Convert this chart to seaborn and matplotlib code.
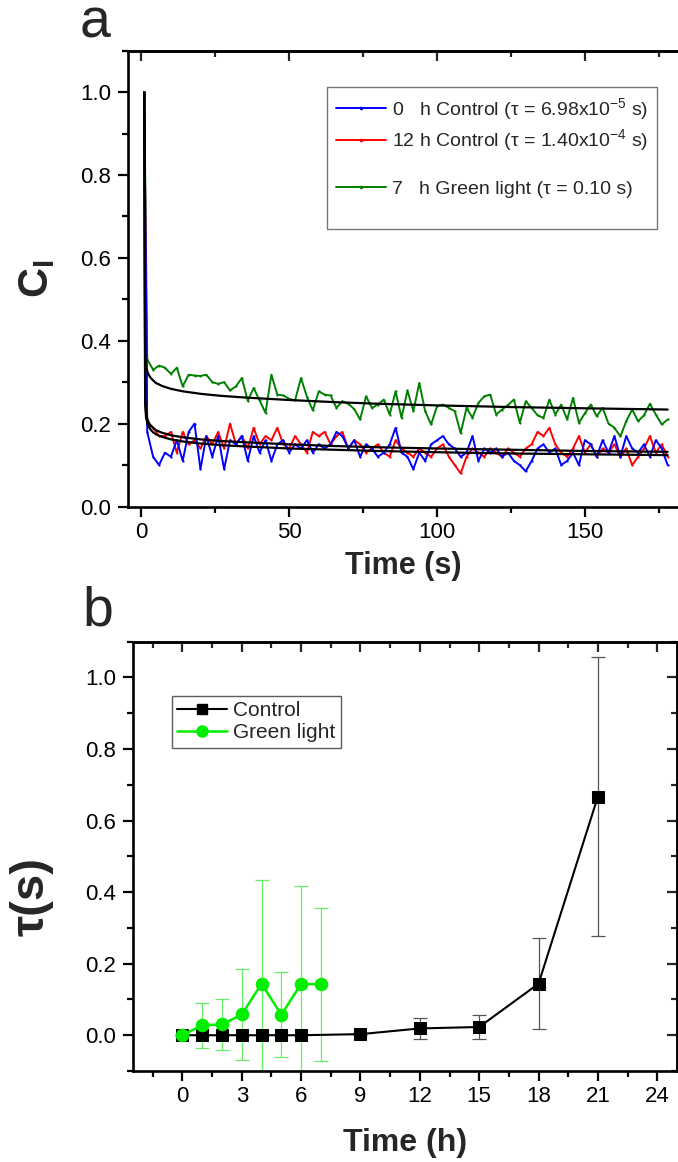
import numpy as np
import pandas as pd
import matplotlib
matplotlib.use("Agg")
import matplotlib.pyplot as plt
import seaborn as sns
from matplotlib.lines import Line2D
from matplotlib.ticker import MultipleLocator

# ---------------- data: panel a ----------------
time_s = [1] + list(range(2, 179, 2))

c_green = [1.0,
    0.355, 0.33, 0.34, 0.335, 0.32, 0.335, 0.29, 0.318, 0.316, 0.315,
    0.318, 0.30, 0.296, 0.30, 0.28, 0.29, 0.31, 0.255, 0.286, 0.256,
    0.226, 0.318, 0.27, 0.268, 0.26, 0.256, 0.31, 0.265, 0.232, 0.278,
    0.27, 0.268, 0.238, 0.254, 0.248, 0.235, 0.21, 0.266, 0.238, 0.246,
    0.258, 0.222, 0.278, 0.214, 0.28, 0.23, 0.298, 0.23, 0.198, 0.242,
    0.246, 0.238, 0.23, 0.177, 0.238, 0.214, 0.25, 0.266, 0.27, 0.222,
    0.234, 0.245, 0.258, 0.202, 0.254, 0.238, 0.22, 0.214, 0.258, 0.222,
    0.246, 0.21, 0.262, 0.202, 0.225, 0.246, 0.218, 0.238, 0.20, 0.19,
    0.169, 0.206, 0.234, 0.206, 0.22, 0.248, 0.222, 0.198, 0.21]

c_blue = [1.0,
    0.18, 0.12, 0.10, 0.13, 0.12, 0.16, 0.11, 0.18, 0.20, 0.09,
    0.17, 0.12, 0.17, 0.09, 0.16, 0.15, 0.17, 0.11, 0.17, 0.13,
    0.16, 0.11, 0.15, 0.16, 0.13, 0.15, 0.14, 0.16, 0.13, 0.15,
    0.14, 0.15, 0.18, 0.17, 0.14, 0.16, 0.12, 0.15, 0.14, 0.12,
    0.13, 0.15, 0.19, 0.13, 0.12, 0.09, 0.13, 0.11, 0.15, 0.16,
    0.17, 0.15, 0.14, 0.12, 0.13, 0.17, 0.11, 0.14, 0.13, 0.14,
    0.12, 0.13, 0.11, 0.10, 0.085, 0.11, 0.14, 0.15, 0.13, 0.14,
    0.10, 0.11, 0.13, 0.10, 0.16, 0.15, 0.12, 0.16, 0.13, 0.17,
    0.12, 0.17, 0.14, 0.13, 0.15, 0.12, 0.16, 0.14, 0.10]

c_red = [1.0,
    0.20, 0.19, 0.17, 0.17, 0.18, 0.13, 0.18, 0.15, 0.16, 0.14,
    0.17, 0.15, 0.18, 0.14, 0.20, 0.15, 0.17, 0.14, 0.19, 0.15,
    0.17, 0.16, 0.19, 0.15, 0.14, 0.17, 0.15, 0.13, 0.18, 0.17,
    0.18, 0.15, 0.17, 0.18, 0.14, 0.16, 0.15, 0.13, 0.14, 0.15,
    0.13, 0.12, 0.16, 0.14, 0.13, 0.12, 0.14, 0.13, 0.12, 0.14,
    0.15, 0.12, 0.10, 0.08, 0.12, 0.14, 0.13, 0.12, 0.14, 0.13,
    0.12, 0.14, 0.13, 0.12, 0.14, 0.15, 0.18, 0.17, 0.19, 0.15,
    0.13, 0.12, 0.14, 0.17, 0.13, 0.15, 0.12, 0.14, 0.13, 0.15,
    0.12, 0.14, 0.10, 0.12, 0.14, 0.17, 0.13, 0.15, 0.12]

fit_t = [1, 1.3, 1.6, 2, 2.5, 3, 4, 5, 7, 10, 14, 20, 27, 35, 50, 65, 80, 100, 125, 150, 178]
fit_green = [1.0, 0.37, 0.34, 0.327, 0.318, 0.312, 0.304, 0.298, 0.291, 0.284, 0.278,
             0.272, 0.267, 0.263, 0.257, 0.252, 0.248, 0.244, 0.240, 0.237, 0.234]
fit_red = [1.0, 0.26, 0.225, 0.212, 0.203, 0.197, 0.19, 0.184, 0.178, 0.172, 0.167,
           0.162, 0.158, 0.155, 0.150, 0.146, 0.143, 0.140, 0.137, 0.134, 0.132]
fit_blue = [1.0, 0.25, 0.215, 0.202, 0.193, 0.187, 0.179, 0.174, 0.168, 0.162, 0.157,
            0.152, 0.148, 0.145, 0.140, 0.137, 0.134, 0.131, 0.128, 0.126, 0.124]

legend_a_labels = ["0   h Control (\u03c4 = 6.98x10$^{-5}$ s)",
                   "12 h Control (\u03c4 = 1.40x10$^{-4}$ s)",
                   "7   h Green light (\u03c4 = 0.10 s)"]

# ---------------- data: panel b ----------------
hours_control = [0, 1, 2, 3, 4, 5, 6, 9, 12, 15, 18, 21]
tau_control = [0, 0, 0, 0, 0, 0, 0, 0.003, 0.019, 0.023, 0.144, 0.667]
err_control = [0, 0, 0, 0, 0, 0, 0, 0.002, 0.030, 0.033, 0.127, 0.390]

hours_green = [0, 1, 2, 3, 4, 5, 6, 7]
tau_green = [0, 0.028, 0.030, 0.058, 0.144, 0.057, 0.144, 0.142]
err_green = [0, 0.063, 0.070, 0.127, 0.290, 0.119, 0.273, 0.215]

# ---------------- style ----------------
sns.set_theme(style="ticks")
plt.rcParams["font.family"] = ["Liberation Sans", "DejaVu Sans"]
plt.rcParams["mathtext.fontset"] = "custom"
plt.rcParams["mathtext.rm"] = "Liberation Sans"
plt.rcParams["mathtext.it"] = "Liberation Sans:italic"
plt.rcParams["mathtext.bf"] = "Liberation Sans:bold"

W, H = 678, 1162
fig = plt.figure(figsize=(W / 100, H / 100), dpi=100)

def px_axes(l, t, r, b):
    return fig.add_axes([l / W, 1 - b / H, (r - l) / W, (b - t) / H])

SPW = 1.9
TICK_FS = 16

def style_axes(ax, xmaj, xmin, ymaj, ymin, right_spine=True):
    for s in ["left", "bottom", "top", "right"]:
        ax.spines[s].set_linewidth(SPW)
        ax.spines[s].set_color("black")
    if not right_spine:
        ax.spines["right"].set_visible(False)
    ax.xaxis.set_major_locator(MultipleLocator(xmaj))
    ax.xaxis.set_minor_locator(MultipleLocator(xmin))
    ax.yaxis.set_major_locator(MultipleLocator(ymaj))
    ax.yaxis.set_minor_locator(MultipleLocator(ymin))
    ax.tick_params(which="major", direction="out", length=7, width=1.6,
                   labelsize=TICK_FS, colors="black", pad=4)
    ax.tick_params(which="minor", direction="out", length=4.5, width=1.6, colors="black")
    ax.tick_params(axis="y", which="major", pad=5)
    ax.tick_params(top=False, right=False, which="both")
    sec = ax.secondary_xaxis("top")
    sec.xaxis.set_major_locator(MultipleLocator(xmaj))
    sec.xaxis.set_minor_locator(MultipleLocator(xmin))
    sec.tick_params(which="major", direction="in", length=7, width=1.6, labeltop=False)
    sec.tick_params(which="minor", direction="in", length=4, width=1.6)
    sec.spines["top"].set_linewidth(SPW)
    if right_spine:
        secy = ax.secondary_yaxis("right")
        secy.yaxis.set_major_locator(MultipleLocator(ymaj))
        secy.yaxis.set_minor_locator(MultipleLocator(ymin))
        secy.tick_params(which="major", direction="in", length=7, width=1.6, labelright=False)
        secy.tick_params(which="minor", direction="in", length=4, width=1.6)
        secy.spines["right"].set_linewidth(SPW)
    ax.grid(False)

# ---------------- panel a ----------------
axa = px_axes(128, 50.7, 678, 506.5)
df_a = pd.DataFrame({
    "time": time_s * 3,
    "c": c_blue + c_red + c_green,
    "series": ["blue"] * len(time_s) + ["red"] * len(time_s) + ["green"] * len(time_s),
})
pal = {"blue": "#0000ff", "red": "#ff0000", "green": "#008000"}
for name in ["green", "red", "blue"]:
    sub = df_a[df_a["series"] == name]
    sns.lineplot(data=sub, x="time", y="c", ax=axa, color=pal[name], lw=1.4,
                 estimator=None, sort=False, legend=False,
                 marker="o", markersize=1.6, markeredgewidth=0)
df_fit = pd.DataFrame({"t": fit_t * 3, "v": fit_green + fit_red + fit_blue,
                       "k": ["g"] * len(fit_t) + ["r"] * len(fit_t) + ["b"] * len(fit_t)})
for k in ["g", "r", "b"]:
    sub = df_fit[df_fit["k"] == k]
    sns.lineplot(data=sub, x="t", y="v", ax=axa, color="black", lw=1.6,
                 estimator=None, sort=False, legend=False)
axa.set_xlim(-4.5, 181.5)
axa.set_ylim(0, 1.1)
style_axes(axa, 50, 25, 0.2, 0.1, right_spine=False)
axa.set_xlabel("Time (s)", fontsize=22, fontweight="bold", labelpad=6)
axa.set_ylabel("C$_\\mathbf{I}$", fontsize=30, fontweight="bold")
axa.yaxis.set_label_coords((57 - 128) / 550, 0.5)
axa.set_xticks([0, 50, 100, 150])
axa.set_yticks([0.0, 0.2, 0.4, 0.6, 0.8, 1.0])
axa.set_yticklabels(["0.0", "0.2", "0.4", "0.6", "0.8", "1.0"])

blank = Line2D([], [], color="none")
handles_a = [Line2D([], [], color="#0000ff", lw=1.4, marker="o", ms=1.6),
             Line2D([], [], color="#ff0000", lw=1.4, marker="o", ms=1.6),
             blank,
             Line2D([], [], color="#008000", lw=1.4, marker="o", ms=1.6),
             blank]
labels_a = [legend_a_labels[0], legend_a_labels[1], " ", legend_a_labels[2], " "]
lga = axa.legend(handles_a, labels_a, loc="upper left",
                 bbox_to_anchor=((327 - 128) / 550, (506.5 - 87) / 455.8),
                 borderaxespad=0, fontsize=14, frameon=True, fancybox=False,
                 edgecolor="#555555", handlelength=2.6, handletextpad=0.3,
                 labelspacing=0.3, borderpad=0.45)
lga.get_frame().set_linewidth(1.0)
lga.get_texts()[2].set_fontsize(8)
lga.get_texts()[4].set_fontsize(11)

# ---------------- panel b ----------------
axb = px_axes(133, 641.7, 677, 1071)
df_c = pd.DataFrame({"h": hours_control, "tau": tau_control, "err": err_control})
df_g = pd.DataFrame({"h": hours_green, "tau": tau_green, "err": err_green})

axb.errorbar(df_c["h"], df_c["tau"], yerr=df_c["err"], fmt="none",
             ecolor="#555555", elinewidth=0.9, capsize=5, capthick=0.9, zorder=1)
sns.lineplot(data=df_c, x="h", y="tau", ax=axb, color="black", lw=1.5,
             marker="s", markersize=8, markeredgecolor="black",
             estimator=None, sort=False, legend=False, zorder=3)
axb.errorbar(df_g["h"], df_g["tau"], yerr=df_g["err"], fmt="none",
             ecolor="#66ee66", elinewidth=0.9, capsize=5, capthick=0.9, zorder=2)
sns.lineplot(data=df_g, x="h", y="tau", ax=axb, color="#00ee00", lw=1.8,
             marker="o", markersize=9, markeredgecolor="#00ee00",
             estimator=None, sort=False, legend=False, zorder=4)
axb.set_xlim(-2.5, 25)
axb.set_ylim(-0.1, 1.1)
style_axes(axb, 3, 1.5, 0.2, 0.1, right_spine=True)
axb.set_xticks([0, 3, 6, 9, 12, 15, 18, 21, 24])
axb.set_yticks([0.0, 0.2, 0.4, 0.6, 0.8, 1.0])
axb.set_yticklabels(["0.0", "0.2", "0.4", "0.6", "0.8", "1.0"])
axb.set_xlabel("Time (h)", fontsize=23, fontweight="bold")
axb.xaxis.set_label_coords(0.5, (1071 - 1128) / 429.3)
axb.set_ylabel("\u03c4(s)", fontsize=34, fontweight="bold")
axb.yaxis.set_label_coords((54 - 133) / 544, (1071 - 897) / 429.3)

handles_b = [Line2D([], [], color="black", lw=1.5, marker="s", ms=7),
             Line2D([], [], color="#00ee00", lw=1.8, marker="o", ms=8)]
lgb = axb.legend(handles_b, ["Control", "Green light"], loc="upper left",
                 bbox_to_anchor=((172 - 133) / 544, (1071 - 696) / 429.3),
                 borderaxespad=0, fontsize=15, frameon=True, fancybox=False,
                 edgecolor="#333333", handlelength=2.4, handletextpad=0.3,
                 labelspacing=0.15, borderpad=0.25)
lgb.get_frame().set_linewidth(1.0)

# panel letters
fig.text(95 / W, 1 - 24 / H, "a", fontsize=40, ha="center", va="center")
fig.text(98 / W, 1 - 612 / H, "b", fontsize=40, ha="center", va="center")

fig.savefig("out.png", dpi=100)
